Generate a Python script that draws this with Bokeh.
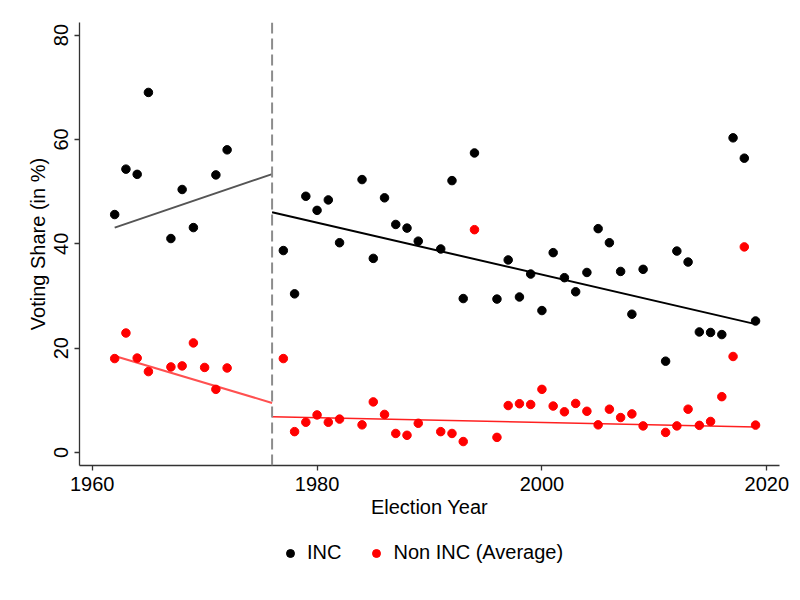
from bokeh.plotting import figure
from bokeh.models import Range1d, Span, Legend, LegendItem, FixedTicker
from bokeh.layouts import column
from bokeh.embed import file_html
from bokeh.resources import INLINE

# ---- data ----
inc_years = [1962, 1963, 1964, 1965, 1967, 1968, 1969, 1971, 1972,
             1977, 1978, 1979, 1980, 1981, 1982, 1984, 1985, 1986, 1987, 1988, 1989,
             1991, 1992, 1993, 1994, 1996, 1997, 1998, 1999,
             2000, 2001, 2002, 2003, 2004, 2005, 2006, 2007, 2008, 2009,
             2011, 2012, 2013, 2014, 2015, 2016, 2017, 2018, 2019]
inc_values = [45.6, 54.3, 53.3, 69.0, 41.0, 50.4, 43.1, 53.2, 58.0,
              38.7, 30.4, 49.1, 46.4, 48.4, 40.2, 52.3, 37.2, 48.8, 43.7, 43.0, 40.5,
              39.0, 52.1, 29.5, 57.4, 29.4, 36.9, 29.8, 34.2,
              27.2, 38.3, 33.5, 30.8, 34.5, 42.9, 40.2, 34.7, 26.5, 35.1,
              17.5, 38.6, 36.5, 23.1, 23.0, 22.6, 60.3, 56.4, 25.2]

non_years = [1962, 1963, 1964, 1965, 1967, 1968, 1969, 1970, 1971, 1972,
             1977, 1978, 1979, 1980, 1981, 1982, 1984, 1985, 1986, 1987, 1988, 1989,
             1991, 1992, 1993, 1994, 1996, 1997, 1998, 1999,
             2000, 2001, 2002, 2003, 2004, 2005, 2006, 2007, 2008, 2009,
             2011, 2012, 2013, 2014, 2015, 2016, 2017, 2018, 2019]
non_values = [18.0, 22.9, 18.1, 15.5, 16.4, 16.6, 21.0, 16.3, 12.1, 16.2,
              18.0, 4.0, 5.8, 7.2, 5.8, 6.4, 5.3, 9.7, 7.3, 3.65, 3.3, 5.6,
              4.0, 3.65, 2.1, 42.7, 2.9, 9.0, 9.35, 9.2,
              12.1, 8.9, 7.8, 9.4, 7.9, 5.3, 8.3, 6.7, 7.4, 5.1,
              3.85, 5.1, 8.3, 5.2, 5.95, 10.7, 18.4, 39.4, 5.25]

# fitted lines
fit_pre_years = [1962, 1976]
inc_fit_pre = [43.1, 53.35]
non_fit_pre = [18.5, 9.5]
fit_post_years = [1976, 2019]
inc_fit_post = [46.05, 24.6]
non_fit_post = [6.85, 4.9]

cutoff_year = 1976
x_ticks = [1960, 1980, 2000, 2020]
y_ticks = [0, 20, 40, 60, 80]
series_labels = ["INC", "Non INC (Average)"]
series_colors = ["black", "red"]

FONT = "Liberation Sans"
FS = "20px"

p = figure(frame_width=700, frame_height=443, output_backend="svg", toolbar_location=None,
           x_range=Range1d(1958.87, 2021.13), y_range=Range1d(-2.49, 82.4),
           min_border_left=79, min_border_right=21, min_border_top=22, min_border_bottom=65)
p.outline_line_color = None
p.xgrid.grid_line_color = None
p.ygrid.grid_line_color = None
p.background_fill_color = "white"
p.border_fill_color = "white"

for ax in (p.xaxis[0], p.yaxis[0]):
    ax.axis_line_color = "#333333"
    ax.axis_line_width = 1.3
    ax.major_tick_line_color = "#333333"
    ax.major_tick_line_width = 1.3
    ax.major_tick_out = 5
    ax.major_tick_in = 0
    ax.minor_tick_line_color = None
    ax.major_label_text_font = FONT
    ax.major_label_text_font_size = FS
    ax.major_label_text_color = "black"
    ax.axis_label_text_font = FONT
    ax.axis_label_text_font_size = FS
    ax.axis_label_text_font_style = "normal"
    ax.axis_label_text_color = "black"

p.xaxis[0].ticker = FixedTicker(ticks=x_ticks)
p.yaxis[0].ticker = FixedTicker(ticks=y_ticks)
p.xaxis[0].axis_label = "Election Year"
p.yaxis[0].axis_label = "Voting Share (in %)"
p.xaxis[0].major_label_standoff = 6
p.xaxis[0].axis_label_standoff = 2
p.yaxis[0].major_label_orientation = "vertical"
p.yaxis[0].major_label_standoff = 6
p.yaxis[0].axis_label_standoff = 3

p.add_layout(Span(location=cutoff_year, dimension="height", line_color="#8c8c8c",
                  line_width=2, line_dash="11 5"))

p.line(fit_pre_years, inc_fit_pre, line_color="#555555", line_width=2)
p.line(fit_post_years, inc_fit_post, line_color="black", line_width=2)
p.line(fit_pre_years, non_fit_pre, line_color="#ff5050", line_width=2)
p.line(fit_post_years, non_fit_post, line_color="#ff2020", line_width=1.6)

p.scatter(inc_years, inc_values, size=8.5, color=series_colors[0])
p.scatter(non_years, non_values, size=8.5, color=series_colors[1])

# legend strip below the plot (its renderers hold the same series, kept out of view)
lg = figure(width=800, height=66, output_backend="svg", toolbar_location=None,
            x_axis_type=None, y_axis_type=None, min_border=0,
            x_range=Range1d(0, 1), y_range=Range1d(0, 1))
lg.outline_line_color = None
lg.grid.grid_line_color = None
lg.background_fill_color = "white"
lg.border_fill_color = "white"
items = []
for lab, col, xs, ys in zip(series_labels, series_colors, [inc_years, non_years], [inc_values, non_values]):
    r = lg.scatter(xs, ys, size=8.5, color=col)
    items.append(LegendItem(label=lab, renderers=[r]))
legend = Legend(items=items, orientation="horizontal", location=(191, 22),
                label_text_font=FONT, label_text_font_size=FS, label_text_color="black",
                border_line_alpha=0, background_fill_alpha=0,
                margin=0, padding=10, spacing=25, label_standoff=7,
                glyph_width=20, glyph_height=20)
lg.add_layout(legend, "center")

layout = column(p, lg, spacing=0)
open("out.html", "w").write(file_html(layout, INLINE))
